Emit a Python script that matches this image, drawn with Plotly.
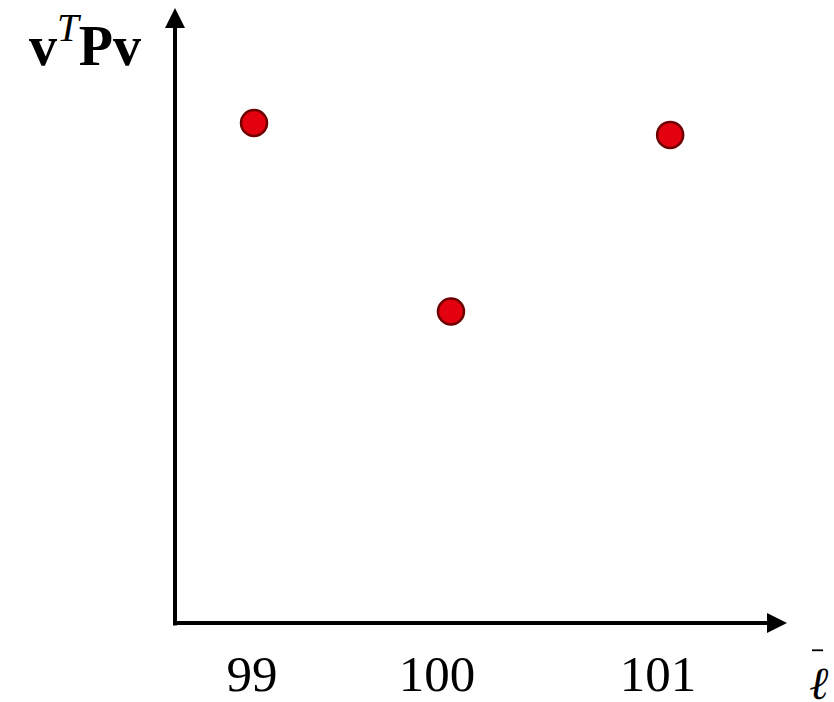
import plotly.graph_objects as go

# data
x_vals = [99.01, 99.985, 101.07]
y_vals = [5.04, 3.14, 4.92]
tick_pos = [99.0, 99.916, 101.01]
tick_text = ["99", "100", "101"]

X0, X1 = 98.6188, 101.8812
Y0, Y1 = 0.0, 6.28

fig = go.Figure()
fig.add_trace(go.Scatter(
    x=x_vals, y=y_vals, mode="markers",
    marker=dict(size=26, color="#e3000f", line=dict(color="#6e0000", width=2.5)),
    cliponaxis=False, showlegend=False, hoverinfo="skip"))

serif = "Liberation Serif, DejaVu Serif, serif"

def px_x(p):
    return (p - 175) / 659

def px_y(p):
    return (628 - p) / 628

fig.update_layout(
    width=834, height=702,
    margin=dict(l=175, r=0, t=0, b=74),
    paper_bgcolor="white", plot_bgcolor="white",
    xaxis=dict(range=[X0, X1], showgrid=False, zeroline=False, showline=False,
               tickvals=tick_pos, ticktext=tick_text, ticks="",
               ticklabelstandoff=16,
               tickfont=dict(family=serif, size=51, color="black")),
    yaxis=dict(range=[Y0, Y1], showgrid=False, zeroline=False, showline=False,
               showticklabels=False, ticks=""),
    shapes=[
        dict(type="line", xref="paper", yref="paper",
             x0=px_x(812), x1=px_x(823), y0=px_y(655.5), y1=px_y(655.5),
             line=dict(color="black", width=1.8)),
    ],
    annotations=[
        # y axis arrow
        dict(x=X0, y=6.20, ax=X0, ay=-0.04, xref="x", yref="y", axref="x", ayref="y",
             text="", showarrow=True, arrowhead=2, arrowsize=1.0, arrowwidth=4,
             arrowcolor="black"),
        # x axis arrow
        dict(x=101.6485, y=0, ax=98.604, ay=0, xref="x", yref="y", axref="x", ayref="y",
             text="", showarrow=True, arrowhead=2, arrowsize=1.0, arrowwidth=4,
             arrowcolor="black"),
        dict(x=px_x(85), y=px_y(42), xref="paper", yref="paper", xanchor="center", yanchor="middle",
             text="<b>v</b><sup><i>T</i></sup><b>Pv</b>", showarrow=False,
             font=dict(family=serif, size=56, color="black")),
        dict(x=px_x(819), y=px_y(688), xref="paper", yref="paper",
             xanchor="center", yanchor="middle",
             text="<i>ℓ</i>", showarrow=False,
             font=dict(family="DejaVu Serif, serif", size=46, color="black")),
    ],
)

fig.write_html("out.html")
